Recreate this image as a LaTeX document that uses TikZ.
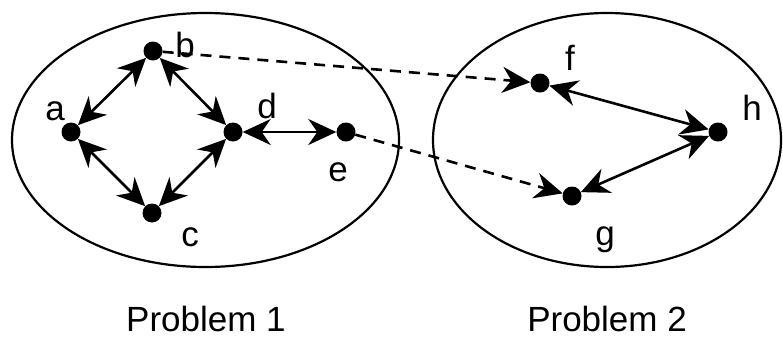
\documentclass[tikz,border=0pt]{standalone}
\usepackage{fontspec}
\setmainfont{Liberation Sans}
\usetikzlibrary{arrows.meta}
\begin{document}
\begin{tikzpicture}[x=1pt,y=-1pt,
  dot/.style={circle,fill=black,inner sep=0pt,minimum size=19pt},
  lbl/.style={font=\fontsize{35}{38}\selectfont,inner sep=0pt},
  biarrow/.style={line width=2.6pt,{Stealth[length=28pt,width=26pt,inset=9pt]}-{Stealth[length=28pt,width=26pt,inset=9pt]}},
  dasharrow/.style={line width=2.6pt,dash pattern=on 11pt off 8pt,-{Stealth[length=28pt,width=26pt,inset=9pt]}},
  region/.style={line width=2.2pt}]
\useasboundingbox (0,0) rectangle (783,338);
\draw[region] (205.5,140) ellipse [x radius=193.5, y radius=127];
\draw[region] (607,140) ellipse [x radius=174, y radius=127];
\node[dot] (a) at (71,132) {};
\node[dot] (b) at (153,51) {};
\node[dot] (c) at (152,213) {};
\node[dot] (d) at (233,132) {};
\node[dot] (e) at (346,132) {};
\node[dot] (f) at (540,83) {};
\node[dot] (h) at (718,132) {};
\node[dot] (g) at (572,196) {};
\node[lbl] (la) at (55,111) {a};
\node[lbl] (lb) at (185,45) {b};
\node[lbl] (lc) at (190,237) {c};
\node[lbl] (ld) at (267,106) {d};
\node[lbl] (le) at (338,172) {e};
\node[lbl] (lf) at (570,58) {f};
\node[lbl] (lh) at (752,108) {h};
\node[lbl] (lg) at (605,240) {g};
\node[lbl] (p1) at (206,319) {Problem 1};
\node[lbl] (p2) at (607,319) {Problem 2};
\draw[biarrow] (a) -- (b);
\draw[biarrow] (b) -- (d);
\draw[biarrow] (a) -- (c);
\draw[biarrow] (c) -- (d);
\draw[biarrow] (d) -- (e);
\draw[biarrow] (f) -- (h);
\draw[biarrow] (g) -- (h);
\draw[dasharrow] (b) -- (f);
\draw[dasharrow] (e) -- (g);
\end{tikzpicture}
\end{document}
